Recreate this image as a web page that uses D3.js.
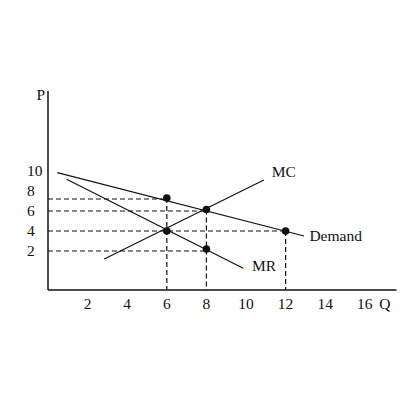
<!DOCTYPE html>
<html><head><meta charset="utf-8">
<script src="https://cdn.jsdelivr.net/npm/d3@7"></script>
<style>body{margin:0;background:#fff}text{font-family:"Liberation Serif","Times New Roman",serif;font-size:15.5px;fill:#111}</style>
</head><body><svg id="c" width="400" height="400"></svg>
<script>
const xTicks = [2,4,6,8,10,12,14,16];
const yTicks = [10,8,6,4,2];
const demand = [[0.47,9.83],[12.93,3.5]];
const mr = [[0.94,9.17],[9.86,0.27]];
const mc = [[2.84,1.2],[10.9,9.1]];
const dots = [[6,7.3],[8,6.15],[12,4],[6,4],[8,2.2]];
// dashed guides: horizontal [price, toQ], vertical [q, fromP]
const hGuides = [[7.2,6],[6,8],[4,12],[2,8]];
const vGuides = [[6,7.3],[8,6.15],[12,4]];
const curveLabels = [["MC",11.3,9.9,"start"],["Demand",13.2,3.5,"start"],["MR",10.3,0.5,"start"]];

const svg = d3.select("#c");
const x = d3.scaleLinear().domain([0,17.6]).range([48,396.5]);
const y = d3.scaleLinear().domain([-1.9,18]).range([290,91]);
const line = d3.line().x(d=>x(d[0])).y(d=>y(d[1]));

// guides
hGuides.forEach(([p,q])=>svg.append("line").attr("x1",x(0)).attr("x2",x(q)).attr("y1",y(p)).attr("y2",y(p))
  .attr("stroke","#111").attr("stroke-width",1.2).attr("stroke-dasharray","5,3"));
vGuides.forEach(([q,p])=>svg.append("line").attr("x1",x(q)).attr("x2",x(q)).attr("y1",y(p)).attr("y2",y(-1.9))
  .attr("stroke","#111").attr("stroke-width",1.2).attr("stroke-dasharray","5,3"));

// axes
svg.append("line").attr("x1",x(0)).attr("x2",x(0)).attr("y1",y(18)).attr("y2",y(-1.9)).attr("stroke","#111").attr("stroke-width",1.5);
svg.append("line").attr("x1",x(0)).attr("x2",x(17.6)).attr("y1",y(-1.9)).attr("y2",y(-1.9)).attr("stroke","#111").attr("stroke-width",1.5);

[demand,mr,mc].forEach(d=>svg.append("path").attr("d",line(d)).attr("fill","none").attr("stroke","#111").attr("stroke-width",1.2));

svg.selectAll("circle.dot").data(dots).join("circle").attr("class","dot")
  .attr("cx",d=>x(d[0])).attr("cy",d=>y(d[1])).attr("r",3.8).attr("fill","#111");

// tick labels
svg.selectAll("text.xt").data(xTicks).join("text").attr("class","xt")
  .attr("x",d=>x(d)).attr("y",y(-1.9)+19).attr("text-anchor","middle").text(d=>d);
svg.selectAll("text.yt").data(yTicks).join("text").attr("class","yt")
  .attr("x",27).attr("y",d=>y(d)+5).attr("text-anchor","start").text(d=>d);
svg.append("text").attr("x",x(17.6)-6).attr("y",y(-1.9)+19).attr("text-anchor","end").text("Q");
svg.append("text").attr("x",x(0)-3).attr("y",y(18)+9).attr("text-anchor","end").text("P");

curveLabels.forEach(([t,q,p,a])=>svg.append("text").attr("x",x(q)).attr("y",y(p)+5).attr("text-anchor",a).text(t));
</script></body></html>
